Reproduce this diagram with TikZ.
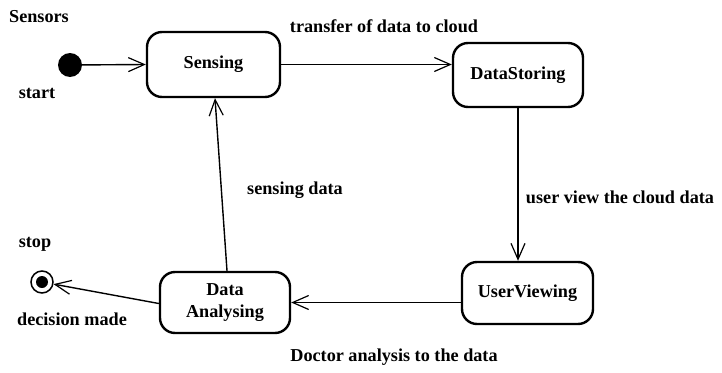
\documentclass[tikz,border=0pt]{standalone}
\usepackage{fontspec}
\setmainfont{Liberation Serif}
\usetikzlibrary{arrows.meta}
\begin{document}
\begin{tikzpicture}[x=1pt,y=-1pt,
  every node/.style={font=\fontsize{18.2}{22}\selectfont\bfseries, inner sep=0pt},
  statebox/.style={draw, line width=2.4pt, rounded corners=15pt, align=center},
  conn/.style={line width=1.4pt, -{Straight Barb[length=16pt,width=14pt,line width=1.2pt]}},
  lbl/.style={}]
\useasboundingbox (0,0) rectangle (722,372);
\node[statebox, minimum width=133pt, minimum height=65pt] (sensing) at (213.5,64.5) {Sensing};
\node[statebox, minimum width=130pt, minimum height=64pt] (storing) at (518,75) {DataStoring};
\node[statebox, minimum width=131pt, minimum height=62pt] (viewing) at (527.5,293) {UserViewing};
\node[statebox, minimum width=130pt, minimum height=61pt] (analysing) at (225,302.5) {Data\\Analysing};
\node[circle, fill, minimum size=24pt] (start) at (70,65) {};
\node[circle, draw, line width=1.5pt, minimum size=22pt] (stop) at (42,282) {};
\fill (stop.center) circle (6pt);
\node[lbl] (sensors) at (39,17) {Sensors};
\node[lbl] (startlbl) at (37,93) {start};
\node[lbl] (transfer) at (384,26) {transfer of data to cloud};
\node[lbl] (sensdata) at (295,190) {sensing data};
\node[lbl] (userview) at (620,197) {user view the cloud data};
\node[lbl] (stoplbl) at (35,244) {stop};
\node[lbl] (decision) at (72,319) {decision made};
\node[lbl] (doctor) at (394,357) {Doctor analysis to the data};
\draw[conn] (start) -- (sensing.west);
\draw[conn] (sensing.east) -- (sensing.east -| storing.west);
\draw[conn] (storing.south) -- (storing.south |- viewing.north);
\draw[conn] (viewing.west |- analysing.east) -- (analysing.east);
\draw[conn] ([xshift=2pt]analysing.north) -- ([xshift=1.5pt]sensing.south);
\draw[conn] ([yshift=-1pt]analysing.west) -- (stop);
\end{tikzpicture}
\end{document}
